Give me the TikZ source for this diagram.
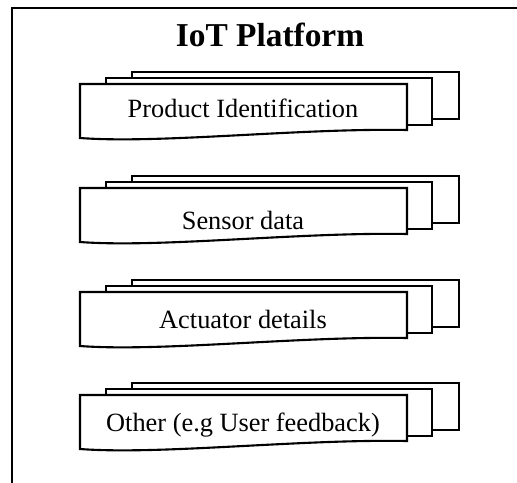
\documentclass[tikz,border=0pt]{standalone}
\usepackage{fontspec}
\setmainfont{Liberation Serif}
\usetikzlibrary{positioning}

\begin{document}
\begin{tikzpicture}[x=0.02cm, y=-0.02cm,
  frame/.style = {line width=1.1pt},
  doc/.style = {draw, fill=white, line width=1.2pt, line join=miter},
  title/.style = {font=\fontsize{19}{22}\selectfont\bfseries},
  lbl/.style = {font=\fontsize{15}{18}\selectfont}]
\useasboundingbox (0,0) rectangle (517,483);
\draw[frame] (12,483) -- (12,8) -- (517,8);
\node[title] (title) at (270,35) {IoT Platform};
\foreach \ty/\txt/\nm/\dy in {84/Product Identification/ident/24, 188/Sensor data/sensor/32,
    292/Actuator details/actuator/27, 395/Other (e.g User feedback)/other/30} {
  \draw[doc] (132,\ty-12) rectangle (459,\ty+35);
  \draw[doc] (106,\ty-6) rectangle (432,\ty+41);
  \draw[doc] (80,\ty) -- (407,\ty) -- (407,\ty+46)
    .. controls (300,\ty+44) and (160,\ty+60) .. (80,\ty+54) -- cycle;
  \node[lbl] (\nm) at (243,\ty+\dy) {\txt};
}
%\node[lbl, below=2pt of other] {};
\end{tikzpicture}
\end{document}
